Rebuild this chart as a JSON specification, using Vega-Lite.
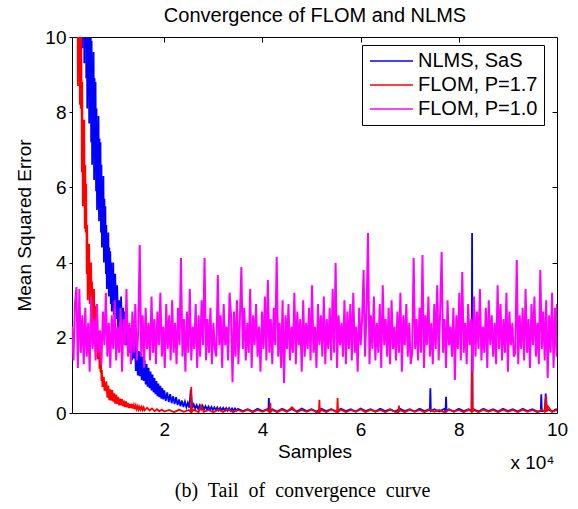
{
"$schema": "https://vega.github.io/schema/vega-lite/v6.json",
"width": 485, "height": 376,
"autosize": "none",
"padding": {"left": 72, "top": 37, "right": 21, "bottom": 96},
"background": "white",
"title": {"text": "(b)\u00a0 Tail\u00a0 of\u00a0 convergence\u00a0 curve", "orient": "bottom", "anchor": "middle", "frame": "group", "font": "Liberation Serif", "fontSize": 20, "fontWeight": "normal", "color": "black", "offset": 9, "dx": -12},
"config": {
  "font": "Liberation Sans",
  "view": {"stroke": null},
  "axis": {"grid": false, "domainColor": "black", "domainWidth": 1, "tickColor": "black", "labelColor": "black", "titleColor": "black", "labelFont": "Liberation Sans", "titleFont": "Liberation Sans", "labelFontSize": 19, "titleFontSize": 19, "titleFontWeight": "normal", "labelFlush": false, "labelOverlap": false}
},
"resolve": {"axis": {"x": "independent", "y": "independent"}},
"datasets": {
"nlms": [
{"x":1200,"y":24},{"x":2000,"y":18},{"x":2500,"y":15},
{"x":3000,"y":15.6},{"x":3100,"y":10.5},{"x":3200,"y":14.5},{"x":3300,"y":9.7},{"x":3400,"y":13.4},{"x":3500,"y":10.2},{"x":3600,"y":14.4},{"x":3700,"y":9.3},{"x":3800,"y":13.3},{"x":3900,"y":9.9},
{"x":4000,"y":13.2},{"x":4100,"y":8.9},{"x":4200,"y":12.2},{"x":4300,"y":8.1},{"x":4400,"y":11.2},{"x":4500,"y":8.5},{"x":4600,"y":12.0},{"x":4700,"y":7.7},{"x":4800,"y":11.0},{"x":4900,"y":8.1},
{"x":5000,"y":10.8},{"x":5100,"y":7.2},{"x":5200,"y":9.9},{"x":5300,"y":6.6},{"x":5400,"y":9.0},{"x":5500,"y":6.8},{"x":5600,"y":9.6},{"x":5700,"y":6.2},{"x":5800,"y":8.9},{"x":5900,"y":6.5},
{"x":6000,"y":8.8},{"x":6100,"y":5.9},{"x":6200,"y":8.1},{"x":6300,"y":5.4},{"x":6400,"y":7.4},{"x":6500,"y":5.6},{"x":6600,"y":7.9},{"x":6700,"y":5.1},{"x":6800,"y":7.3},{"x":6900,"y":5.4},
{"x":7000,"y":7.2},{"x":7100,"y":4.8},{"x":7200,"y":6.6},{"x":7300,"y":4.4},{"x":7400,"y":6.0},{"x":7500,"y":4.5},{"x":7600,"y":6.3},{"x":7700,"y":4.0},{"x":7800,"y":5.7},{"x":7900,"y":4.2},
{"x":8000,"y":5.5},{"x":8100,"y":3.7},{"x":8200,"y":5.0},{"x":8300,"y":3.3},{"x":8400,"y":4.5},{"x":8500,"y":3.4},{"x":8600,"y":4.8},{"x":8700,"y":3.1},{"x":8800,"y":4.4},{"x":8900,"y":3.2},
{"x":9000,"y":4.3},{"x":9100,"y":2.9},{"x":9200,"y":4.0},{"x":9300,"y":2.7},{"x":9400,"y":3.7},{"x":9500,"y":2.8},{"x":9600,"y":4.0},{"x":9700,"y":2.6},{"x":9800,"y":3.7},{"x":9900,"y":2.8},
{"x":10000,"y":3.7},{"x":10200,"y":2.5},{"x":10400,"y":3.4},{"x":10600,"y":2.2},{"x":10800,"y":3.0},{"x":11000,"y":2.25},{"x":11200,"y":3.1},{"x":11400,"y":2.0},{"x":11600,"y":2.8},{"x":11800,"y":2.05},
{"x":12000,"y":2.7},{"x":12200,"y":1.8},{"x":12400,"y":2.4},{"x":12600,"y":1.6},{"x":12800,"y":2.2},{"x":13000,"y":1.6},{"x":13200,"y":2.25},{"x":13400,"y":1.4},{"x":13600,"y":2.0},{"x":13800,"y":1.45},
{"x":14000,"y":2.05},{"x":14200,"y":1.12},{"x":14400,"y":1.85},{"x":14600,"y":1.0},{"x":14800,"y":1.65},{"x":15000,"y":0.98},{"x":15200,"y":1.62},{"x":15400,"y":0.88},{"x":15600,"y":1.5},{"x":15800,"y":0.85},
{"x":16000,"y":1.4},{"x":16200,"y":0.76},{"x":16400,"y":1.3},{"x":16600,"y":0.7},{"x":16800,"y":1.2},{"x":17000,"y":0.66},{"x":17200,"y":1.1},{"x":17400,"y":0.6},{"x":17600,"y":1.02},{"x":17800,"y":0.55},
{"x":18000,"y":0.93},{"x":18200,"y":0.5},{"x":18400,"y":0.85},{"x":18600,"y":0.45},{"x":18800,"y":0.78},{"x":19000,"y":0.42},{"x":19200,"y":0.72},{"x":19400,"y":0.38},{"x":19600,"y":0.66},{"x":19800,"y":0.36},
{"x":20000,"y":0.6},{"x":20300,"y":0.32},{"x":20600,"y":0.55},{"x":20900,"y":0.29},{"x":21200,"y":0.5},{"x":21500,"y":0.26},{"x":21800,"y":0.45},{"x":22100,"y":0.24},{"x":22400,"y":0.42},{"x":22700,"y":0.21},
{"x":23000,"y":0.36},{"x":23300,"y":0.18},{"x":23600,"y":0.33},{"x":23900,"y":0.16},{"x":24200,"y":0.3},{"x":24500,"y":0.15},{"x":24800,"y":0.27},{"x":25100,"y":0.14},{"x":25400,"y":0.62},{"x":25700,"y":0.13},
{"x":26000,"y":0.23},{"x":26300,"y":0.12},{"x":26600,"y":0.21},{"x":26900,"y":0.11},{"x":27200,"y":0.2},{"x":27500,"y":0.1},{"x":27800,"y":0.19},{"x":28100,"y":0.1},{"x":28400,"y":0.18},{"x":28700,"y":0.09},
{"x":29000,"y":0.17},{"x":29300,"y":0.09},{"x":29600,"y":0.16},{"x":29900,"y":0.08},{"x":30200,"y":0.15},{"x":30500,"y":0.08},{"x":30800,"y":0.15},{"x":31100,"y":0.07},{"x":31400,"y":0.14},{"x":31700,"y":0.07},
{"x":32000,"y":0.14},{"x":32300,"y":0.07},{"x":32600,"y":0.13},{"x":32900,"y":0.06},{"x":33200,"y":0.13},{"x":33500,"y":0.06},{"x":33800,"y":0.12},{"x":34100,"y":0.06},{"x":34400,"y":0.12},{"x":34700,"y":0.06},
{"x":35000,"y":0.11},{"x":36000,"y":0.05},{"x":37000,"y":0.1},{"x":38000,"y":0.04},{"x":39000,"y":0.11},{"x":40000,"y":0.05},{"x":41000,"y":0.1},{"x":41200,"y":0.04},{"x":41300,"y":0.4},{"x":41400,"y":0.05},
{"x":42000,"y":0.1},{"x":43000,"y":0.04},{"x":44000,"y":0.11},{"x":45000,"y":0.05},{"x":46000,"y":0.1},{"x":47000,"y":0.04},{"x":48000,"y":0.12},{"x":49000,"y":0.05},{"x":50000,"y":0.1},{"x":51000,"y":0.04},
{"x":52000,"y":0.11},{"x":53000,"y":0.05},{"x":54000,"y":0.1},{"x":55000,"y":0.04},{"x":56000,"y":0.11},{"x":57000,"y":0.05},{"x":58000,"y":0.1},{"x":59000,"y":0.04},{"x":60000,"y":0.12},{"x":61000,"y":0.05},
{"x":62000,"y":0.1},{"x":63000,"y":0.04},{"x":64000,"y":0.11},{"x":65000,"y":0.05},{"x":66000,"y":0.1},{"x":67000,"y":0.04},{"x":68000,"y":0.11},{"x":69000,"y":0.05},{"x":70000,"y":0.1},{"x":71000,"y":0.04},
{"x":72000,"y":0.11},{"x":73000,"y":0.05},{"x":74000,"y":0.1},{"x":74100,"y":0.05},{"x":74200,"y":0.66},{"x":74300,"y":0.05},{"x":75000,"y":0.1},{"x":76000,"y":0.04},{"x":77000,"y":0.11},{"x":77300,"y":0.05},
{"x":77400,"y":0.43},{"x":77500,"y":0.05},{"x":78000,"y":0.1},{"x":79000,"y":0.04},{"x":80000,"y":0.11},{"x":81000,"y":0.05},{"x":82000,"y":0.1},{"x":82600,"y":0.05},{"x":82700,"y":4.79},{"x":82800,"y":0.05},
{"x":83000,"y":0.1},{"x":84000,"y":0.04},{"x":85000,"y":0.11},{"x":86000,"y":0.05},{"x":87000,"y":0.1},{"x":88000,"y":0.04},{"x":89000,"y":0.11},{"x":90000,"y":0.05},{"x":91000,"y":0.1},{"x":92000,"y":0.04},
{"x":93000,"y":0.11},{"x":94000,"y":0.05},{"x":95000,"y":0.1},{"x":96000,"y":0.04},{"x":96700,"y":0.05},{"x":96800,"y":0.5},{"x":96900,"y":0.05},{"x":97500,"y":0.05},{"x":97700,"y":0.52},{"x":97900,"y":0.05},
{"x":98000,"y":0.1},{"x":99000,"y":0.04},{"x":99800,"y":0.1},{"x":100000,"y":0.08}
],
"f17": [
{"x":1200,"y":30},{"x":1600,"y":22},{"x":2000,"y":14.6},
{"x":2100,"y":16.3},{"x":2200,"y":10.2},{"x":2300,"y":14.0},{"x":2400,"y":8.7},{"x":2500,"y":12.1},{"x":2600,"y":9.1},{"x":2700,"y":12.9},{"x":2800,"y":8.2},{"x":2900,"y":11.2},{"x":3000,"y":8.1},
{"x":3100,"y":10.4},{"x":3200,"y":6.4},{"x":3300,"y":8.8},{"x":3400,"y":5.5},{"x":3500,"y":7.6},{"x":3600,"y":5.6},{"x":3700,"y":7.8},{"x":3800,"y":4.9},{"x":3900,"y":6.6},{"x":4000,"y":4.8},
{"x":4100,"y":6.1},{"x":4200,"y":3.7},{"x":4300,"y":5.0},{"x":4400,"y":3.0},{"x":4500,"y":4.3},{"x":4600,"y":3.2},{"x":4700,"y":4.5},{"x":4800,"y":2.9},{"x":4900,"y":4.0},{"x":5000,"y":3.0},
{"x":5100,"y":4.0},{"x":5200,"y":2.5},{"x":5300,"y":3.5},{"x":5400,"y":2.25},{"x":5500,"y":3.2},{"x":5600,"y":2.35},{"x":5700,"y":3.3},{"x":5800,"y":2.1},{"x":5900,"y":2.85},{"x":6000,"y":2.07},
{"x":6100,"y":2.7},{"x":6200,"y":1.7},{"x":6300,"y":2.3},{"x":6400,"y":1.43},{"x":6500,"y":1.98},{"x":6600,"y":1.43},{"x":6700,"y":1.95},{"x":6800,"y":1.18},{"x":6900,"y":1.56},{"x":7000,"y":1.08},
{"x":7100,"y":1.38},{"x":7200,"y":0.85},{"x":7300,"y":1.14},{"x":7400,"y":0.69},{"x":7500,"y":0.94},{"x":7600,"y":0.69},{"x":7700,"y":0.96},{"x":7800,"y":0.6},{"x":7900,"y":0.81},{"x":8000,"y":0.58},
{"x":8200,"y":0.84},{"x":8400,"y":0.41},{"x":8600,"y":0.73},{"x":8800,"y":0.34},{"x":9000,"y":0.63},{"x":9200,"y":0.33},{"x":9400,"y":0.61},{"x":9600,"y":0.3},{"x":9800,"y":0.52},{"x":10000,"y":0.25},
{"x":10200,"y":0.49},{"x":10400,"y":0.24},{"x":10600,"y":0.43},{"x":10800,"y":0.2},{"x":11000,"y":0.38},{"x":11200,"y":0.2},{"x":11400,"y":0.37},{"x":11600,"y":0.18},{"x":11800,"y":0.33},{"x":12000,"y":0.16},
{"x":12200,"y":0.31},{"x":12400,"y":0.15},{"x":12600,"y":0.27},{"x":12800,"y":0.13},{"x":13000,"y":0.24},{"x":13200,"y":0.13},{"x":13400,"y":0.24},{"x":13600,"y":0.12},{"x":13800,"y":0.21},{"x":14000,"y":0.1},
{"x":14200,"y":0.2},{"x":14400,"y":0.1},{"x":14600,"y":0.18},{"x":14800,"y":0.085},{"x":15000,"y":0.16},{"x":15200,"y":0.09},{"x":15400,"y":0.16},{"x":15600,"y":0.08},{"x":15800,"y":0.15},{"x":16000,"y":0.07},
{"x":16500,"y":0.14},{"x":17000,"y":0.065},{"x":17500,"y":0.12},{"x":18000,"y":0.05},{"x":18500,"y":0.1},{"x":19000,"y":0.045},{"x":19500,"y":0.09},{"x":20000,"y":0.04},
{"x":21000,"y":0.08},{"x":22000,"y":0.02},{"x":23000,"y":0.09},{"x":24000,"y":0.03},{"x":25000,"y":0.08},{"x":25400,"y":0.02},{"x":25500,"y":0.7},{"x":25600,"y":0.03},{"x":26000,"y":0.09},{"x":27000,"y":0.02},
{"x":27500,"y":0.2},{"x":28000,"y":0.03},{"x":29000,"y":0.08},{"x":30000,"y":0.02},{"x":31000,"y":0.09},{"x":32000,"y":0.03},{"x":33000,"y":0.1},{"x":34000,"y":0.02},{"x":35000,"y":0.08},{"x":36000,"y":0.03},
{"x":37000,"y":0.09},{"x":38000,"y":0.02},{"x":39000,"y":0.08},{"x":40000,"y":0.03},{"x":41000,"y":0.09},{"x":41500,"y":0.02},{"x":41600,"y":0.27},{"x":41700,"y":0.03},{"x":42000,"y":0.08},{"x":43000,"y":0.02},
{"x":44000,"y":0.09},{"x":45000,"y":0.03},{"x":46000,"y":0.15},{"x":47000,"y":0.02},{"x":48000,"y":0.08},{"x":49000,"y":0.03},{"x":50000,"y":0.09},{"x":51000,"y":0.02},{"x":51500,"y":0.03},{"x":51600,"y":0.35},
{"x":51700,"y":0.03},{"x":52000,"y":0.08},{"x":53000,"y":0.02},{"x":54000,"y":0.1},{"x":55000,"y":0.03},{"x":55200,"y":0.02},{"x":55300,"y":0.4},{"x":55400,"y":0.03},{"x":56000,"y":0.09},{"x":57000,"y":0.02},
{"x":58000,"y":0.08},{"x":59000,"y":0.03},{"x":60000,"y":0.1},{"x":61000,"y":0.02},{"x":62000,"y":0.09},{"x":63000,"y":0.03},{"x":64000,"y":0.08},{"x":65000,"y":0.02},{"x":66000,"y":0.09},{"x":67000,"y":0.03},
{"x":67700,"y":0.02},{"x":67800,"y":0.2},{"x":67900,"y":0.03},{"x":68000,"y":0.08},{"x":69000,"y":0.02},{"x":70000,"y":0.09},{"x":71000,"y":0.03},{"x":72000,"y":0.08},{"x":73000,"y":0.02},{"x":74000,"y":0.09},
{"x":75000,"y":0.03},{"x":76000,"y":0.08},{"x":77000,"y":0.02},{"x":78000,"y":0.09},{"x":79000,"y":0.03},{"x":80000,"y":0.08},{"x":81000,"y":0.02},{"x":82000,"y":0.09},{"x":82600,"y":0.03},{"x":82700,"y":1.4},
{"x":82800,"y":0.03},{"x":83000,"y":0.08},{"x":84000,"y":0.02},{"x":85000,"y":0.09},{"x":86000,"y":0.03},{"x":87000,"y":0.08},{"x":88000,"y":0.02},{"x":89000,"y":0.09},{"x":90000,"y":0.03},{"x":91000,"y":0.08},
{"x":92000,"y":0.02},{"x":93000,"y":0.09},{"x":94000,"y":0.03},{"x":95000,"y":0.08},{"x":96000,"y":0.02},{"x":97000,"y":0.09},{"x":97500,"y":0.03},{"x":97800,"y":0.45},{"x":97900,"y":0.03},{"x":98000,"y":0.2},
{"x":99000,"y":0.03},{"x":100000,"y":0.08}
],
"f10": [
{"x":1200,"y":2.3},{"x":1500,"y":1.4},{"x":1800,"y":2.9},{"x":2100,"y":3.35},{"x":2400,"y":1.2},{"x":2700,"y":3.3},{"x":3000,"y":1.6},{"x":3300,"y":2.6},{"x":3600,"y":1.3},{"x":3900,"y":2.8},
{"x":4200,"y":1.5},{"x":4500,"y":2.4},{"x":4800,"y":1.1},{"x":5100,"y":3.1},{"x":5400,"y":1.7},{"x":5700,"y":2.5},{"x":6000,"y":1.4},{"x":6300,"y":2.9},{"x":6600,"y":1.6},{"x":6900,"y":2.2},
{"x":7200,"y":1.3},{"x":7500,"y":2.7},{"x":7800,"y":1.8},{"x":8100,"y":3.2},{"x":8400,"y":1.5},{"x":8700,"y":2.4},{"x":9000,"y":1.2},{"x":9300,"y":2.6},{"x":9600,"y":1.7},{"x":9900,"y":3.0},
{"x":10200,"y":1.4},{"x":10500,"y":2.3},{"x":10800,"y":1.6},{"x":11100,"y":2.8},{"x":11400,"y":1.1},{"x":11700,"y":2.5},{"x":12000,"y":1.8},{"x":12300,"y":3.3},{"x":12600,"y":1.5},{"x":12900,"y":2.4},
{"x":13200,"y":1.3},{"x":13500,"y":2.7},{"x":13800,"y":1.6},{"x":14100,"y":2.9},{"x":14400,"y":1.4},{"x":14700,"y":2.2},{"x":15000,"y":4.47},{"x":15300,"y":1.5},{"x":15600,"y":2.6},{"x":15900,"y":1.2},
{"x":16200,"y":2.8},{"x":16500,"y":1.7},{"x":16800,"y":2.4},{"x":17100,"y":1.4},{"x":17400,"y":3.1},{"x":17700,"y":1.6},{"x":18000,"y":2.5},{"x":18300,"y":1.3},{"x":18600,"y":2.7},{"x":18900,"y":1.8},
{"x":19200,"y":3.2},{"x":19500,"y":1.5},{"x":19800,"y":2.3},{"x":20100,"y":1.2},{"x":20400,"y":2.9},{"x":20700,"y":1.7},{"x":21000,"y":2.6},{"x":21300,"y":1.4},{"x":21600,"y":3.0},{"x":21900,"y":1.6},
{"x":22200,"y":2.4},{"x":22500,"y":1.3},{"x":22800,"y":2.8},{"x":23100,"y":1.8},{"x":23400,"y":4.12},{"x":23700,"y":1.5},{"x":24000,"y":2.5},{"x":24300,"y":1.1},{"x":24600,"y":2.7},{"x":24900,"y":1.6},
{"x":25200,"y":3.3},{"x":25500,"y":1.4},{"x":25800,"y":2.3},{"x":26100,"y":1.7},{"x":26400,"y":2.9},{"x":26700,"y":1.2},{"x":27000,"y":2.6},{"x":27300,"y":1.5},{"x":27600,"y":3.0},{"x":27900,"y":1.8},
{"x":28200,"y":4.12},{"x":28500,"y":1.4},{"x":28800,"y":2.5},{"x":29100,"y":1.6},{"x":29400,"y":2.8},{"x":29700,"y":1.3},{"x":30000,"y":2.4},{"x":30300,"y":1.7},{"x":30600,"y":1.5},{"x":30900,"y":3.67},
{"x":31200,"y":1.8},{"x":31500,"y":2.6},{"x":31800,"y":1.2},{"x":32100,"y":2.9},{"x":32400,"y":1.8},{"x":32700,"y":2.3},{"x":33000,"y":1.4},{"x":33300,"y":3.2},{"x":33600,"y":2.6},{"x":33900,"y":0.82},
{"x":34200,"y":2.7},{"x":34500,"y":1.5},{"x":34800,"y":3.0},{"x":35100,"y":1.3},{"x":35400,"y":2.5},{"x":35700,"y":3.88},{"x":36000,"y":1.7},{"x":36300,"y":2.8},{"x":36600,"y":1.4},{"x":36900,"y":2.4},
{"x":37200,"y":1.6},{"x":37500,"y":3.3},{"x":37800,"y":1.2},{"x":38100,"y":2.6},{"x":38400,"y":1.8},{"x":38700,"y":2.9},{"x":39000,"y":1.5},{"x":39300,"y":2.3},{"x":39600,"y":1.1},{"x":39900,"y":2.7},
{"x":40200,"y":1.7},{"x":40500,"y":3.1},{"x":40800,"y":1.4},{"x":41100,"y":3.54},{"x":41400,"y":1.6},{"x":41700,"y":2.5},{"x":42000,"y":1.3},{"x":42300,"y":2.8},{"x":42600,"y":1.8},{"x":42900,"y":4.15},
{"x":43200,"y":1.5},{"x":43500,"y":2.4},{"x":43800,"y":1.2},{"x":44100,"y":3.0},{"x":44400,"y":0.8},{"x":44700,"y":2.6},{"x":45000,"y":1.7},{"x":45300,"y":2.9},{"x":45600,"y":1.4},{"x":45900,"y":2.3},
{"x":46200,"y":1.6},{"x":46500,"y":3.2},{"x":46800,"y":1.3},{"x":47100,"y":2.7},{"x":47400,"y":1.8},{"x":47700,"y":2.5},{"x":48000,"y":1.1},{"x":48300,"y":3.0},{"x":48600,"y":1.5},{"x":48900,"y":2.4},
{"x":49200,"y":1.7},{"x":49500,"y":2.8},{"x":49800,"y":1.4},{"x":50100,"y":3.4},{"x":50400,"y":1.6},{"x":50700,"y":2.3},{"x":51000,"y":1.2},{"x":51300,"y":2.9},{"x":51600,"y":1.8},{"x":51900,"y":2.6},
{"x":52200,"y":1.5},{"x":52500,"y":3.1},{"x":52800,"y":1.3},{"x":53100,"y":2.5},{"x":53400,"y":1.7},{"x":53700,"y":2.8},{"x":54000,"y":1.4},{"x":54300,"y":3.3},{"x":54600,"y":1.6},{"x":54900,"y":3.99},
{"x":55200,"y":1.2},{"x":55500,"y":2.6},{"x":55800,"y":1.8},{"x":56100,"y":2.4},{"x":56400,"y":1.5},{"x":56700,"y":3.0},{"x":57000,"y":1.3},{"x":57300,"y":2.7},{"x":57600,"y":1.7},{"x":57900,"y":2.9},
{"x":58200,"y":1.4},{"x":58500,"y":3.2},{"x":58800,"y":1.6},{"x":59100,"y":2.3},{"x":59400,"y":1.1},{"x":59700,"y":2.8},{"x":60000,"y":1.8},{"x":60300,"y":2.5},{"x":60600,"y":3.8},{"x":60900,"y":1.5},
{"x":61200,"y":2.7},{"x":61500,"y":4.79},{"x":61800,"y":1.3},{"x":62100,"y":2.6},{"x":62400,"y":1.7},{"x":62700,"y":3.1},{"x":63000,"y":1.4},{"x":63300,"y":2.4},{"x":63600,"y":1.6},{"x":63900,"y":2.9},
{"x":64200,"y":1.2},{"x":64500,"y":3.4},{"x":64800,"y":1.8},{"x":65100,"y":2.5},{"x":65400,"y":1.5},{"x":65700,"y":2.8},{"x":66000,"y":1.3},{"x":66300,"y":3.0},{"x":66600,"y":1.7},{"x":66900,"y":2.3},
{"x":67200,"y":1.4},{"x":67500,"y":2.7},{"x":67800,"y":1.6},{"x":68100,"y":3.2},{"x":68400,"y":1.1},{"x":68700,"y":2.6},{"x":69000,"y":1.8},{"x":69300,"y":2.9},{"x":69600,"y":1.5},{"x":69900,"y":2.4},
{"x":70200,"y":1.3},{"x":70500,"y":1.6},{"x":70800,"y":4.12},{"x":71100,"y":1.7},{"x":71400,"y":2.5},{"x":71700,"y":1.4},{"x":72000,"y":2.8},{"x":72300,"y":1.6},{"x":72600,"y":4.2},{"x":72900,"y":1.2},
{"x":73200,"y":2.6},{"x":73500,"y":1.8},{"x":73800,"y":3.1},{"x":74100,"y":1.5},{"x":74400,"y":2.4},{"x":74700,"y":1.3},{"x":75000,"y":2.9},{"x":75300,"y":1.7},{"x":75600,"y":3.4},{"x":75900,"y":1.4},
{"x":76200,"y":2.7},{"x":76500,"y":4.28},{"x":76800,"y":1.6},{"x":77100,"y":2.5},{"x":77400,"y":1.2},{"x":77700,"y":3.0},{"x":78000,"y":1.8},{"x":78300,"y":2.3},{"x":78600,"y":1.5},{"x":78900,"y":2.8},
{"x":79200,"y":0.88},{"x":79500,"y":2.6},{"x":79800,"y":1.7},{"x":80100,"y":3.2},{"x":80400,"y":1.4},{"x":80700,"y":3.75},{"x":81000,"y":1.6},{"x":81300,"y":2.4},{"x":81600,"y":1.3},{"x":81900,"y":2.9},
{"x":82200,"y":1.8},{"x":82500,"y":2.5},{"x":82800,"y":1.1},{"x":83100,"y":3.1},{"x":83400,"y":1.5},{"x":83700,"y":2.7},{"x":84000,"y":1.7},{"x":84300,"y":3.3},{"x":84600,"y":1.4},{"x":84900,"y":2.3},
{"x":85200,"y":1.6},{"x":85500,"y":2.8},{"x":85800,"y":1.2},{"x":86100,"y":3.0},{"x":86400,"y":1.8},{"x":86700,"y":2.6},{"x":87000,"y":1.5},{"x":87300,"y":2.4},{"x":87600,"y":1.3},{"x":87900,"y":3.4},
{"x":88200,"y":1.7},{"x":88500,"y":2.9},{"x":88800,"y":1.4},{"x":89100,"y":2.5},{"x":89400,"y":1.6},{"x":89700,"y":3.2},{"x":90000,"y":1.1},{"x":90300,"y":2.7},{"x":90600,"y":1.8},{"x":90900,"y":2.4},
{"x":91200,"y":1.5},{"x":91500,"y":1.6},{"x":91800,"y":4.07},{"x":92100,"y":1.3},{"x":92400,"y":2.6},{"x":92700,"y":1.7},{"x":93000,"y":2.8},{"x":93300,"y":1.4},{"x":93600,"y":3.3},{"x":93900,"y":1.6},
{"x":94200,"y":2.5},{"x":94500,"y":1.2},{"x":94800,"y":2.9},{"x":95100,"y":1.8},{"x":95400,"y":3.1},{"x":95700,"y":1.5},{"x":96000,"y":2.4},{"x":96300,"y":1.3},{"x":96600,"y":3.8},{"x":96900,"y":1.7},
{"x":97200,"y":2.7},{"x":97500,"y":1.4},{"x":97800,"y":3.0},{"x":98100,"y":0.93},{"x":98400,"y":2.6},{"x":98700,"y":1.6},{"x":99000,"y":3.2},{"x":99300,"y":1.2},{"x":99600,"y":2.8},{"x":99900,"y":1.5},
{"x":100000,"y":2.9}
]
},
"layer": [
{
  "data": {"name": "nlms"},
  "mark": {"type": "line", "clip": true, "strokeWidth": 1.8},
  "encoding": {
    "x": {"field": "x", "type": "quantitative", "scale": {"domain": [1200, 100000], "nice": false, "zero": false},
      "axis": {"orient": "bottom", "values": [20000, 40000, 60000, 80000, 100000], "labelExpr": "datum.value / 10000", "title": "Samples", "ticks": false, "labelPadding": 7, "titlePadding": 3}},
    "y": {"field": "y", "type": "quantitative", "scale": {"domain": [0, 10], "nice": false, "zero": false},
      "axis": {"orient": "left", "values": [0, 2, 4, 6, 8, 10], "title": "Mean Squared Error", "tickSize": 3, "labelPadding": 3, "titlePadding": 10}},
    "color": {"datum": "NLMS, SaS", "type": "nominal",
      "scale": {"domain": ["NLMS, SaS", "FLOM, P=1.7", "FLOM, P=1.0"], "range": ["#0000ff", "#ff0000", "#ff00ff"]},
      "legend": {"orient": "none", "legendX": 290, "legendY": 8, "title": null, "symbolType": "M-4,0H4", "symbolSize": 116, "symbolStrokeWidth": 1.5, "symbolOffset": 13.5, "labelOffset": 16.5, "labelFont": "Liberation Sans", "labelFontSize": 20, "labelColor": "black", "strokeColor": "black", "fillColor": "white", "padding": 6, "rowPadding": 4}}
  }
},
{
  "data": {"name": "f17"},
  "mark": {"type": "line", "clip": true, "strokeWidth": 1.8},
  "encoding": {
    "x": {"field": "x", "type": "quantitative", "scale": {"domain": [1200, 100000], "nice": false, "zero": false},
      "axis": {"orient": "top", "values": [20000, 40000, 60000, 80000], "labels": false, "tickSize": -5, "title": "Convergence of FLOM and NLMS", "titleFontSize": 20, "titlePadding": 11}},
    "y": {"field": "y", "type": "quantitative", "scale": {"domain": [0, 10], "nice": false, "zero": false},
      "axis": {"orient": "right", "values": [2, 4, 6, 8], "labels": false, "tickSize": -5, "title": null}},
    "color": {"datum": "FLOM, P=1.7", "type": "nominal"}
  }
},
{
  "data": {"name": "f10"},
  "mark": {"type": "line", "clip": true, "strokeWidth": 2},
  "encoding": {
    "x": {"field": "x", "type": "quantitative", "scale": {"domain": [1200, 100000], "nice": false, "zero": false},
      "axis": {"orient": "bottom", "labels": false, "ticks": false, "domain": false, "title": "x 10\u2074", "titleAnchor": "end", "titleX": 482, "titleFontSize": 19, "titlePadding": 40}},
    "y": {"field": "y", "type": "quantitative", "scale": {"domain": [0, 10], "nice": false, "zero": false}, "axis": null},
    "color": {"datum": "FLOM, P=1.0", "type": "nominal"}
  }
}
]
}
